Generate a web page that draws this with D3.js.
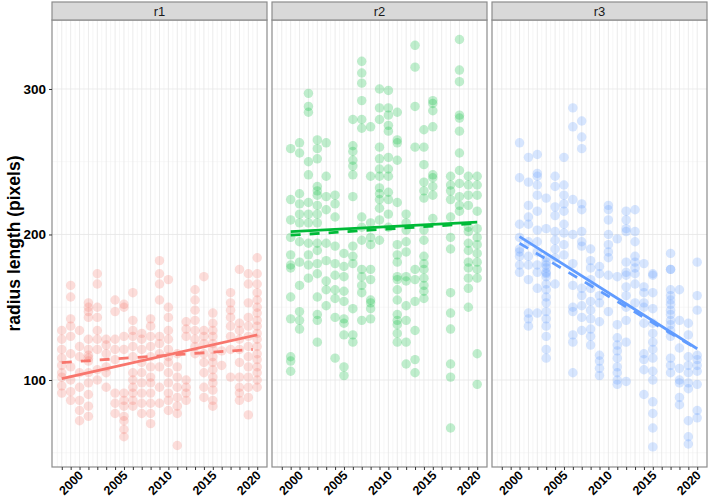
<!DOCTYPE html>
<html>
<head>
<meta charset="utf-8">
<script src="https://cdn.jsdelivr.net/npm/d3@7"></script>
<style>
  body { margin: 0; background: #fff; }
  text { font-family: "Liberation Sans", Arial, sans-serif; }
</style>
</head>
<body>
<svg></svg>
<script>
// values, one entry per year: [year, [radius lengths]]
const panels = ["r1", "r2", "r3"];
const colors = ["#F8766D", "#00BA38", "#619CFF"];

const r1Values = [
  [1998, [134, 128, 121, 115, 110, 105, 102, 91, 96]],
  [1999, [165, 157, 142, 137, 130, 118, 109, 100, 92, 86]],
  [2000, [134, 123, 116, 105, 95, 86, 79, 72]],
  [2001, [153, 150, 147, 143, 128, 121, 117, 115, 113, 105, 98, 90, 82, 75]],
  [2002, [173, 166, 150, 143, 134, 128, 121, 107, 100]],
  [2003, [128, 124, 118, 109, 105, 95]],
  [2004, [155, 147, 128, 121, 114, 91, 84, 77]],
  [2005, [152, 150, 130, 121, 91, 86, 82, 75, 72, 66, 61]],
  [2006, [160, 141, 134, 130, 123, 116, 105, 100, 95, 91, 86, 82]],
  [2007, [132, 128, 121, 112, 105, 98, 91, 84, 77]],
  [2008, [142, 137, 130, 123, 116, 109, 102, 98, 91, 84, 77, 70]],
  [2009, [182, 173, 166, 155, 130, 125, 118, 109, 95, 84]],
  [2010, [169, 150, 143, 134, 128, 121, 116, 112, 105, 98, 91, 86, 79]],
  [2011, [118, 109, 102, 95, 88, 82, 77, 55]],
  [2012, [140, 135, 130, 100, 95, 91, 86]],
  [2013, [162, 155, 148, 141, 134, 128, 123, 118]],
  [2014, [171, 134, 130, 125, 118, 112, 105, 95, 88]],
  [2015, [146, 139, 134, 130, 125, 121, 116, 112, 107, 102, 98, 93, 86, 82]],
  [2016, [120, 110]],
  [2017, [160, 153, 148, 143, 137, 130, 121, 102]],
  [2018, [176, 139, 134, 128, 121, 112, 102, 95, 91, 86]],
  [2019, [173, 166, 153, 143, 137, 130, 123, 116, 109, 102, 95, 88, 76]],
  [2020, [184, 173, 166, 160, 155, 150, 146, 141, 137, 132, 128, 123, 118, 114, 109, 105, 100, 95]]
];

const r2Values = [
  [1999, [259, 224, 210, 198, 186, 179, 177, 157, 142, 116, 113, 106]],
  [2000, [263, 256, 228, 221, 214, 208, 195, 181, 165, 147, 141, 135]],
  [2001, [297, 288, 284, 250, 241, 222, 214, 208, 194, 186, 179, 170]],
  [2002, [265, 259, 252, 233, 230, 227, 220, 214, 208, 194, 189, 180, 173, 157, 145, 141, 126]],
  [2003, [263, 240, 226, 217, 194, 182, 168, 162, 151]],
  [2004, [227, 221, 212, 192, 180, 172, 162, 156, 143, 115]],
  [2005, [187, 178, 171, 161, 154, 142, 139, 131, 109, 103]],
  [2006, [279, 261, 257, 251, 247, 241, 226, 192, 185, 180, 149, 131, 126]],
  [2007, [319, 311, 304, 292, 279, 273, 212, 205, 196, 176, 171, 165, 160, 141]],
  [2008, [274, 240, 208, 198, 193, 176, 169, 155, 153, 149, 142]],
  [2009, [300, 287, 279, 260, 252, 245, 240, 232, 228, 224, 218, 210, 196]],
  [2010, [299, 287, 282, 275, 271, 253, 245, 240, 229, 224, 214, 205]],
  [2011, [284, 265, 263, 251, 222, 193, 186, 181, 171, 169, 162, 155, 145, 141, 138, 132, 126]],
  [2012, [214, 208, 203, 195, 188, 171, 168, 151, 141, 126, 111]],
  [2013, [330, 315, 288, 260, 176, 169, 154, 134, 114, 105]],
  [2014, [272, 260, 248, 236, 230, 225, 203, 196, 185, 180, 176, 170, 165, 161, 156]],
  [2015, [292, 290, 285, 274, 241, 239, 233, 227, 211]],
  [2017, [240, 234, 230, 224, 212, 198, 190, 160, 146, 135, 111, 102, 67]],
  [2018, [334, 313, 305, 282, 280, 271, 256, 244, 235, 226, 220, 216]],
  [2019, [240, 234, 227, 220, 205, 202, 194, 189, 181, 177, 170, 163, 150]],
  [2020, [240, 234, 227, 216, 204, 198, 193, 187, 181, 176, 170, 118, 97]]
];

const r3Values = [
  [2000, [263, 239, 207, 198, 190, 188, 185, 179, 174]],
  [2001, [253, 236, 220, 212, 207, 195, 185, 179, 169, 146, 142, 137]],
  [2002, [255, 242, 240, 234, 227, 216, 203, 195, 188, 179, 174, 163, 146]],
  [2003, [225, 204, 184, 181, 179, 177, 174, 173, 171, 166, 162, 157, 153, 147, 142, 137, 130, 121, 115]],
  [2004, [240, 233, 219, 213, 202, 196, 190, 184, 166]],
  [2005, [253, 234, 227, 221, 216, 207, 201, 193, 186]],
  [2006, [287, 274, 224, 200, 180, 165, 150, 147, 131, 126, 105]],
  [2007, [278, 267, 259, 221, 217, 202, 195, 192, 163, 158, 151, 143, 134]],
  [2008, [190, 182, 177, 169, 163, 154, 148, 142, 135, 130, 124]],
  [2009, [178, 173, 158, 153, 140, 117, 113, 108, 103]],
  [2010, [220, 217, 210, 200, 193, 188, 184, 172, 147]],
  [2011, [197, 171, 138, 129, 124, 120, 115, 109, 105, 100, 97]],
  [2012, [216, 210, 204, 202, 181, 174, 172, 164, 158, 150, 141, 126, 99]],
  [2013, [217, 202, 195, 185, 181, 177, 173, 166, 153]],
  [2014, [180, 164, 160, 153, 150, 139, 118, 114, 107, 90]],
  [2015, [173, 172, 160, 149, 139, 132, 126, 121, 115, 106, 100, 85, 77, 67, 54]],
  [2017, [187, 176, 176, 162, 158, 155, 152, 148, 145, 141, 138, 134, 130, 115, 110, 105]],
  [2018, [162, 141, 122, 108, 100, 98, 88, 83]],
  [2019, [139, 131, 116, 110, 105, 98, 94, 72, 61, 56]],
  [2020, [181, 158, 148, 117, 114, 110, 106, 97, 79, 74]]
];

// fitted lines: [[x0, y0], [x1, y1]]
const solidFits = [
  [[1998, 101], [2020, 131]],
  [[1999, 202], [2020, 208.5]],
  [[2000, 198.5], [2020, 121.5]]
];
const dashedFits = [
  [[1998, 112], [2019.5, 121]],
  [[1999, 199.5], [2019.5, 207.5]],
  [[2000, 194], [2019.5, 123]]
];

const yearTicks = [1998, 1999, 2000, 2001, 2002, 2003, 2004, 2005, 2006, 2007, 2008,
  2009, 2010, 2011, 2012, 2013, 2014, 2015, 2016, 2017, 2018, 2019, 2020];
const yearLabels = [2000, 2005, 2010, 2015, 2020];
const yMajor = [100, 200, 300];
const yMinor = [50, 150, 250];

const allValues = [r1Values, r2Values, r3Values];

function draw() {
  const width = 709, height = 498;
  const panelLeft = 52, panelTop = 20, panelBottom = 467;
  const panelW = 215, gap = 5, stripH = 18;

  const svg = d3.select("svg").attr("width", width).attr("height", height);

  const x = d3.scaleLinear().domain([1996.9, 2021.1]).range([0, panelW]);
  const y = d3.scaleLinear().domain([40.2, 347.4]).range([panelBottom, panelTop]);

  // minor x grid at half years
  const halfYears = yearTicks.slice(0, -1).map(d => d + 0.5)
    .concat([1997.5]);

  panels.forEach((name, i) => {
    const g = svg.append("g")
      .attr("transform", `translate(${panelLeft + i * (panelW + gap)}, 0)`);

    // grid
    g.selectAll(".ymin").data(yMinor).join("line")
      .attr("x1", 0).attr("x2", panelW)
      .attr("y1", d => y(d)).attr("y2", d => y(d))
      .attr("stroke", "#F2F2F2").attr("stroke-width", 0.6);
    g.selectAll(".xmin").data(halfYears).join("line")
      .attr("class", "xmin")
      .attr("x1", d => x(d)).attr("x2", d => x(d))
      .attr("y1", panelTop).attr("y2", panelBottom)
      .attr("stroke", "#F0F0F0").attr("stroke-width", 0.6);
    g.selectAll(".xmaj").data(yearTicks).join("line")
      .attr("class", "xmaj")
      .attr("x1", d => x(d)).attr("x2", d => x(d))
      .attr("y1", panelTop).attr("y2", panelBottom)
      .attr("stroke", "#E6E6E6").attr("stroke-width", 0.8);
    g.selectAll(".ymaj").data(yMajor).join("line")
      .attr("class", "ymaj")
      .attr("x1", 0).attr("x2", panelW)
      .attr("y1", d => y(d)).attr("y2", d => y(d))
      .attr("stroke", "#E6E6E6").attr("stroke-width", 0.8);

    // points
    const pts = [];
    allValues[i].forEach(([yr, vals]) => vals.forEach(v => pts.push([yr, v])));
    g.selectAll("circle").data(pts).join("circle")
      .attr("cx", d => x(d[0]))
      .attr("cy", d => y(d[1]))
      .attr("r", 4.7)
      .attr("fill", colors[i])
      .attr("fill-opacity", 0.25);

    // fitted lines
    const line = d3.line().x(d => x(d[0])).y(d => y(d[1]));
    g.append("path").datum(dashedFits[i])
      .attr("d", line).attr("fill", "none")
      .attr("stroke", colors[i]).attr("stroke-width", 2.8)
      .attr("stroke-dasharray", "10,9");
    g.append("path").datum(solidFits[i])
      .attr("d", line).attr("fill", "none")
      .attr("stroke", colors[i]).attr("stroke-width", 2.8);

    // border
    g.append("rect")
      .attr("x", 0).attr("y", panelTop)
      .attr("width", panelW).attr("height", panelBottom - panelTop)
      .attr("fill", "none").attr("stroke", "#8C8C8C").attr("stroke-width", 1.2);

    // strip
    g.append("rect")
      .attr("x", 0).attr("y", panelTop - stripH)
      .attr("width", panelW).attr("height", stripH)
      .attr("fill", "#D9D9D9").attr("stroke", "#8C8C8C").attr("stroke-width", 1.2);
    g.append("text")
      .text(name)
      .attr("x", panelW / 2).attr("y", panelTop - stripH / 2 + 4.5)
      .attr("font-size", 13).attr("fill", "#1A1A1A")
      .style("text-anchor", "middle");

    // x axis
    const xAxis = g.append("g")
      .attr("transform", `translate(0, ${panelBottom})`)
      .call(d3.axisBottom(x).tickValues(yearTicks).tickSize(3)
        .tickFormat(d => yearLabels.includes(d) ? d : ""));
    xAxis.select(".domain").remove();
    xAxis.selectAll("line").attr("stroke", "#333").attr("stroke-width", 1);
    xAxis.selectAll("text")
      .attr("font-size", 12.5).attr("font-weight", "bold").attr("fill", "#000")
      .attr("dy", null).attr("y", 0)
      .attr("transform", "translate(4, 9) rotate(-45)")
      .style("text-anchor", "end");
  });

  // y axis
  const yAxis = svg.append("g")
    .attr("transform", `translate(${panelLeft}, 0)`)
    .call(d3.axisLeft(y).tickValues(yMajor).tickSize(3));
  yAxis.select(".domain").remove();
  yAxis.selectAll("line").attr("stroke", "#333");
  yAxis.selectAll("text")
    .attr("font-size", 13.5).attr("font-weight", "bold").attr("fill", "#000");

  // y title
  svg.append("text")
    .text("radius length (pixels)")
    .attr("font-size", 17.5).attr("font-weight", "bold")
    .attr("transform", `translate(20, ${(panelTop + panelBottom) / 2}) rotate(-90)`)
    .style("text-anchor", "middle");
}

draw();
</script>
</body>
</html>
